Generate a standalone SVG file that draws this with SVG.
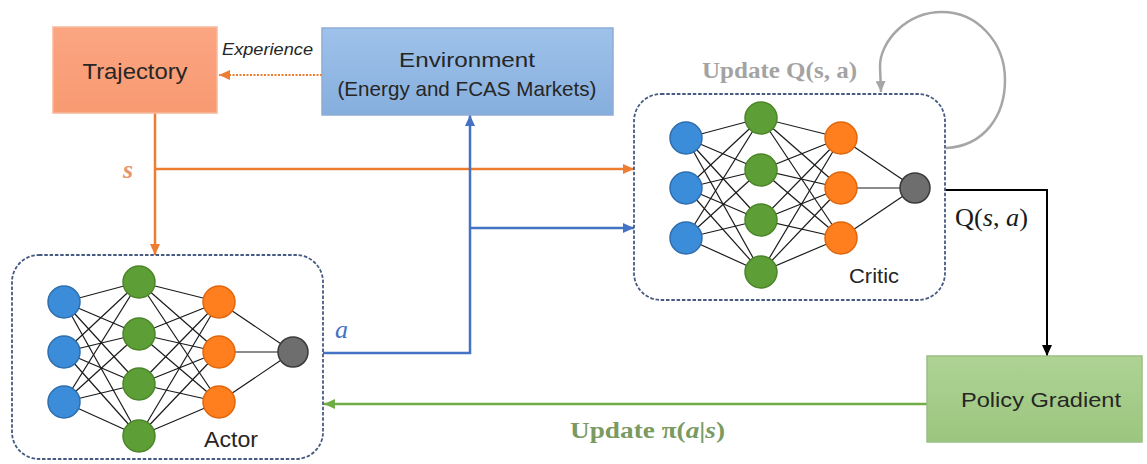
<svg xmlns="http://www.w3.org/2000/svg" xmlns:xlink="http://www.w3.org/1999/xlink" width="1147" height="464" viewBox="0 0 1147 464">
  <style>
    .sans { font-family: "Liberation Sans", Arial, sans-serif; fill: #262626; }
    .serif { font-family: "Liberation Serif", "Times New Roman", serif; }
    .frame { fill: #ffffff; stroke: #465A82; stroke-width: 1.8; stroke-dasharray: 3.5 1.8; }
    .syn { stroke: #1a1a1a; stroke-width: 1.2; }
    .in { fill: #3C8DD9; stroke: #2E6DAE; stroke-width: 1.5; }
    .hid { fill: #5E9E36; stroke: #4B8529; stroke-width: 1.5; }
    .outl { fill: #FF7F1E; stroke: #E0660C; stroke-width: 1.5; }
    .out { fill: #6E6E6E; stroke: #3A3A3A; stroke-width: 1.5; }
    .wire { fill: none; stroke-width: 2.5; }
  </style>
  <defs>
    <linearGradient id="gTraj" x1="0" y1="0" x2="0" y2="1">
      <stop offset="0" stop-color="#FBA581"/>
      <stop offset="1" stop-color="#F89A72"/>
    </linearGradient>
    <linearGradient id="gEnv" x1="0" y1="0" x2="0" y2="1">
      <stop offset="0" stop-color="#9EC2EA"/>
      <stop offset="1" stop-color="#86AEDD"/>
    </linearGradient>
    <linearGradient id="gPG" x1="0" y1="0" x2="0" y2="1">
      <stop offset="0" stop-color="#AED394"/>
      <stop offset="1" stop-color="#9CC67F"/>
    </linearGradient>
    <marker id="mOrange" markerUnits="userSpaceOnUse" markerWidth="12" markerHeight="10" refX="11" refY="5" orient="auto">
      <path d="M0,0 L11,5 L0,10 z" fill="#ED7D31"/>
    </marker>
    <marker id="mBlue" markerUnits="userSpaceOnUse" markerWidth="12" markerHeight="10" refX="11" refY="5" orient="auto">
      <path d="M0,0 L11,5 L0,10 z" fill="#4472C4"/>
    </marker>
    <marker id="mGreen" markerUnits="userSpaceOnUse" markerWidth="12" markerHeight="10" refX="11" refY="5" orient="auto">
      <path d="M0,0 L11,5 L0,10 z" fill="#70AD47"/>
    </marker>
    <marker id="mBlack" markerUnits="userSpaceOnUse" markerWidth="12" markerHeight="10" refX="11" refY="5" orient="auto">
      <path d="M0,0 L11,5 L0,10 z" fill="#000000"/>
    </marker>
    <marker id="mGray" markerUnits="userSpaceOnUse" markerWidth="12" markerHeight="10" refX="11" refY="5" orient="auto">
      <path d="M0,0 L11,5 L0,10 z" fill="#A6A6A6"/>
    </marker>

    <!-- 3-4-3-1 fully connected network, origin at the output neuron -->
    <g id="net">
      <g class="syn">
        <!-- input to hidden -->
        <line x1="-229" y1="-50" x2="-154" y2="-70"/><line x1="-229" y1="-50" x2="-154" y2="-18"/>
        <line x1="-229" y1="-50" x2="-154" y2="32"/><line x1="-229" y1="-50" x2="-154" y2="84"/>
        <line x1="-229" y1="0" x2="-154" y2="-70"/><line x1="-229" y1="0" x2="-154" y2="-18"/>
        <line x1="-229" y1="0" x2="-154" y2="32"/><line x1="-229" y1="0" x2="-154" y2="84"/>
        <line x1="-229" y1="50" x2="-154" y2="-70"/><line x1="-229" y1="50" x2="-154" y2="-18"/>
        <line x1="-229" y1="50" x2="-154" y2="32"/><line x1="-229" y1="50" x2="-154" y2="84"/>
        <!-- hidden to last layer -->
        <line x1="-154" y1="-70" x2="-74" y2="-50"/><line x1="-154" y1="-70" x2="-74" y2="0"/><line x1="-154" y1="-70" x2="-74" y2="50"/>
        <line x1="-154" y1="-18" x2="-74" y2="-50"/><line x1="-154" y1="-18" x2="-74" y2="0"/><line x1="-154" y1="-18" x2="-74" y2="50"/>
        <line x1="-154" y1="32" x2="-74" y2="-50"/><line x1="-154" y1="32" x2="-74" y2="0"/><line x1="-154" y1="32" x2="-74" y2="50"/>
        <line x1="-154" y1="84" x2="-74" y2="-50"/><line x1="-154" y1="84" x2="-74" y2="0"/><line x1="-154" y1="84" x2="-74" y2="50"/>
        <!-- last layer to output -->
        <line x1="-74" y1="-50" x2="0" y2="0"/><line x1="-74" y1="0" x2="0" y2="0"/><line x1="-74" y1="50" x2="0" y2="0"/>
      </g>
      <circle class="in" cx="-229" cy="-50" r="16"/>
      <circle class="in" cx="-229" cy="0" r="16"/>
      <circle class="in" cx="-229" cy="50" r="16"/>
      <circle class="hid" cx="-154" cy="-70" r="16"/>
      <circle class="hid" cx="-154" cy="-18" r="16"/>
      <circle class="hid" cx="-154" cy="32" r="16"/>
      <circle class="hid" cx="-154" cy="84" r="16"/>
      <circle class="outl" cx="-74" cy="-50" r="16"/>
      <circle class="outl" cx="-74" cy="0" r="16"/>
      <circle class="outl" cx="-74" cy="50" r="16"/>
      <circle class="out" cx="0" cy="0" r="15"/>
    </g>
  </defs>

  <rect width="1147" height="464" fill="#ffffff"/>

  <!-- connectors -->
  <g id="connectors">
    <!-- experience: environment to trajectory -->
    <line x1="322" y1="75" x2="219" y2="75" stroke="#ED7D31" stroke-width="2" stroke-dasharray="2 1.5" marker-end="url(#mOrange)"/>
    <!-- state s -->
    <line class="wire" x1="155" y1="113" x2="155" y2="255" stroke="#ED7D31" marker-end="url(#mOrange)"/>
    <line class="wire" x1="155" y1="169" x2="634" y2="169" stroke="#ED7D31" marker-end="url(#mOrange)"/>
    <!-- action a -->
    <polyline class="wire" points="323,353 470,353 470,115" stroke="#4472C4" marker-end="url(#mBlue)"/>
    <line class="wire" x1="470" y1="228" x2="634" y2="228" stroke="#4472C4" marker-end="url(#mBlue)"/>
    <!-- critic self update -->
    <path class="wire" d="M946,148 C985,146 1005,115 1005,80 C1005,42 977,12 942,12 C906,12 880,42 880,66 L881,92" stroke="#A6A6A6" marker-end="url(#mGray)"/>
    <!-- Q(s,a) to policy gradient -->
    <polyline fill="none" stroke="#000000" stroke-width="2" points="945,190 1047,190 1047,356" marker-end="url(#mBlack)"/>
    <!-- policy update back to actor -->
    <line class="wire" x1="927" y1="404" x2="324" y2="404" stroke="#70AD47" marker-end="url(#mGreen)"/>
  </g>

  <!-- connector labels -->
  <g id="labels">
    <text class="sans" x="222" y="55" font-size="16" font-style="italic" textLength="91" lengthAdjust="spacingAndGlyphs">Experience</text>
    <text class="serif" x="123" y="178" font-size="26" font-style="italic" font-weight="bold" fill="#E8956A">s</text>
    <text class="serif" x="335" y="338" font-size="26" font-style="italic" fill="#4472C4">a</text>
    <text class="serif" x="702" y="78" font-size="24" font-weight="bold" fill="#A3A3A3" textLength="155" lengthAdjust="spacingAndGlyphs">Update Q(s, a)</text>
    <text class="serif" x="955" y="226" font-size="25" fill="#1a1a1a" textLength="73" lengthAdjust="spacingAndGlyphs">Q(<tspan font-style="italic">s</tspan>, <tspan font-style="italic">a</tspan>)</text>
    <text class="serif" x="570" y="438" font-size="24" font-weight="bold" fill="#7A9A62" textLength="155" lengthAdjust="spacingAndGlyphs">Update π(<tspan font-style="italic">a</tspan>|<tspan font-style="italic">s</tspan>)</text>
  </g>

  <g id="trajectory">
    <rect x="53" y="27" width="164" height="86" fill="url(#gTraj)" stroke="#F7B89C" stroke-width="1.5"/>
    <text class="sans" x="135" y="79" font-size="22" text-anchor="middle" fill="#3A2A22" textLength="105" lengthAdjust="spacingAndGlyphs">Trajectory</text>
  </g>

  <g id="environment">
    <rect x="322" y="28" width="291" height="87" fill="url(#gEnv)" stroke="#8EACD6" stroke-width="1.5"/>
    <text class="sans" x="467" y="67" font-size="21" text-anchor="middle" fill="#1F2D3D" textLength="136" lengthAdjust="spacingAndGlyphs">Environment</text>
    <text class="sans" x="467" y="96" font-size="21" text-anchor="middle" fill="#1F2D3D" textLength="259" lengthAdjust="spacingAndGlyphs">(Energy and FCAS Markets)</text>
  </g>

  <g id="critic">
    <rect class="frame" x="634" y="94" width="311" height="206" rx="27"/>
    <use xlink:href="#net" transform="translate(915,188)"/>
    <text class="sans" x="849" y="283" font-size="21" textLength="50" lengthAdjust="spacingAndGlyphs">Critic</text>
  </g>

  <g id="actor">
    <rect class="frame" x="12" y="255" width="311" height="204" rx="27"/>
    <use xlink:href="#net" transform="translate(293,352)"/>
    <text class="sans" x="204" y="447" font-size="22" textLength="54" lengthAdjust="spacingAndGlyphs">Actor</text>
  </g>

  <g id="policy-gradient">
    <rect x="927" y="356" width="215" height="86" fill="url(#gPG)" stroke="#9BBF84" stroke-width="1.5"/>
    <text class="sans" x="1041" y="407" font-size="21" text-anchor="middle" fill="#1E2B14" textLength="160" lengthAdjust="spacingAndGlyphs">Policy Gradient</text>
  </g>
</svg>
